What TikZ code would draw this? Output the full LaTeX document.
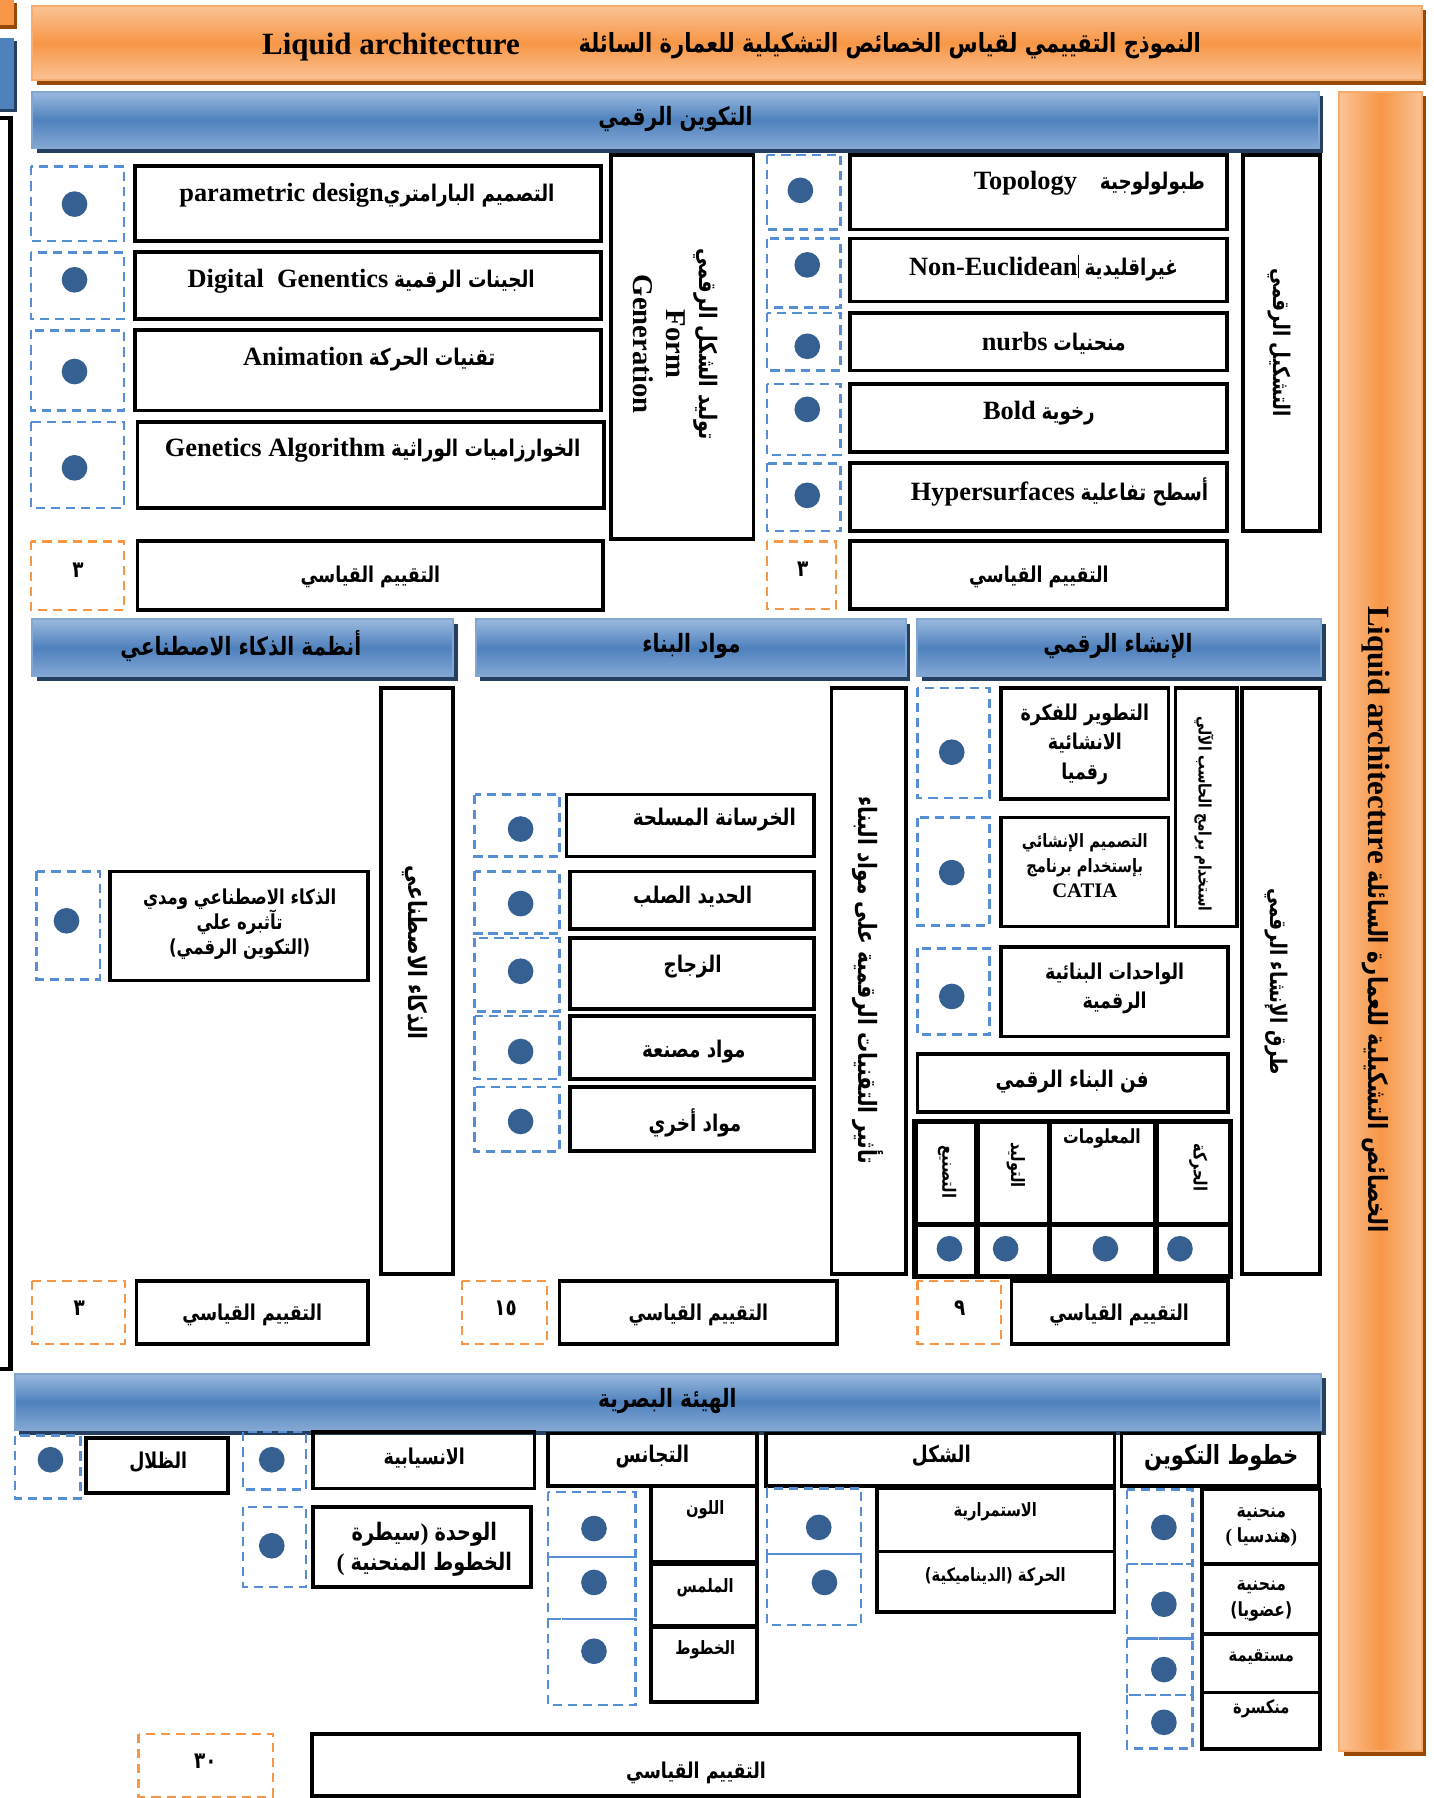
\documentclass[tikz,border=0pt]{standalone}
\usepackage{fontspec}
\setmainfont{Liberation Serif}
\newfontfamily\arabicfont[Script=Arabic,FakeStretch=0.8]{DejaVu Sans}
\TeXXeTstate=1
\newcommand{\artx}[1]{{\arabicfont\beginR #1\endR}}
\newcommand{\ardig}[1]{{\arabicfont #1}}
\definecolor{orangemid}{HTML}{F79646}
\definecolor{orangelight}{HTML}{FAC396}
\definecolor{orangedark}{HTML}{984807}
\definecolor{bluemid}{HTML}{4F81BD}
\definecolor{bluelight}{HTML}{9BB9DF}
\definecolor{bluedark}{HTML}{243F60}
\definecolor{dotblue}{HTML}{366092}
\definecolor{dashblue}{HTML}{558ED5}
\definecolor{dashorange}{HTML}{F79646}

\begin{document}
\begin{tikzpicture}[x=0.5pt,y=-0.5pt,
  box/.style={draw=black, line width=1.6pt},
  bluedash/.style={draw=dashblue, line width=1.1pt, dash pattern=on 4pt off 2.6pt},
  orangedash/.style={draw=dashorange, line width=1.1pt, dash pattern=on 4pt off 2.6pt},
  banner/.style={draw=bluemid!70!white, line width=0.8pt, top color=bluelight, bottom color=bluelight!70!bluemid, middle color=bluemid},
  bannershade/.style={fill=bluedark},
  orangehead/.style={draw=orangemid!80!white, line width=0.8pt, top color=orangelight, bottom color=orangelight, middle color=orangemid},
  orangeside/.style={draw=orangemid!80!white, line width=0.8pt, left color=orangelight, right color=orangelight, middle color=orangemid},
  orangeshade/.style={fill=orangedark},
  dotmark/.style={fill=dotblue},
  lblL/.style={inner sep=0pt, align=center, font=\bfseries\fontsize{11}{14}\selectfont},
  lblM/.style={inner sep=0pt, align=center, font=\bfseries\fontsize{10}{12.5}\selectfont},
  lblE/.style={inner sep=0pt, align=center, font=\bfseries\fontsize{9.5}{12}\selectfont},
  lblS/.style={inner sep=0pt, align=center, font=\bfseries\fontsize{9}{11}\selectfont},
  lblT/.style={inner sep=0pt, align=center, font=\bfseries\fontsize{8}{10}\selectfont}
]
\useasboundingbox (0,0) rectangle (1250,1568);

% bits of the page edge
\fill[orangeshade] (0,3) rectangle (15,25);
\fill[orangemid] (0,0) rectangle (12,22);
\fill[bannershade] (0,36) rectangle (15,98);
\fill[bluemid] (0,33) rectangle (12,95);
\draw[line width=2pt] (0,103) -- (9,103) -- (9,1194) -- (0,1194);

% title bar
\fill[orangeshade] (32,9) rectangle (1244,74);
\draw[orangehead] (28,5) rectangle (1240,70);
\node[lblL, font=\bfseries\fontsize{13.5}{16}\selectfont] (titleen) at (341,41) {Liquid architecture};
\node[lblL, font=\bfseries\fontsize{11.5}{14}\selectfont] (titlear) at (776,40) {\artx{النموذج التقييمي لقياس الخصائص التشكيلية للعمارة السائلة}};

% side bar
\fill[orangeshade] (1172,84) rectangle (1244,1531);
\draw[orangeside] (1168,80) rectangle (1240,1527);
\node[lblL, rotate=-90, font=\bfseries\fontsize{11.5}{14}\selectfont] (sidetxt) at (1200,802) {{\fontsize{13.5}{16}\selectfont Liquid architecture} \artx{الخصائص التشكيلية للعمارة السائلة}};

%% ---- digital formation ----
\fill[bannershade] (32,84) rectangle (1154,133);
\draw[banner] (28,80) rectangle (1150,129);
\node[lblL] (formhead) at (589,104) {\artx{التكوين الرقمي}};

% left column
\draw[bluedash] (27,145) rectangle (108,210);
\draw[bluedash] (27,220) rectangle (108,278);
\draw[bluedash] (27,288) rectangle (108,358);
\draw[bluedash] (27,368) rectangle (108,443);
\draw[orangedash] (27,472) rectangle (108,532);
\fill[dotmark] (65,178) circle [radius=5.6pt];
\fill[dotmark] (65,244) circle [radius=5.6pt];
\fill[dotmark] (65,324) circle [radius=5.6pt];
\fill[dotmark] (65,408) circle [radius=5.6pt];
\node[lblM] (numA) at (68,497) {\ardig{٣}};

\draw[box] (118,145) rectangle (524,210);
\draw[box] (118,220) rectangle (524,278);
\draw[box] (118,288) rectangle (524,358);
\draw[box] (120,368) rectangle (527,443);
\draw[box] (120,472) rectangle (526,532);
\node[lblM] (pdtxt) at (320,170) {{\fontsize{11.5}{13}\selectfont parametric design}\artx{التصميم البارامتري}};
\node[lblM] (dgtxt) at (315,245) {{\fontsize{11.5}{13}\selectfont Digital\ \ Genentics} \artx{الجينات الرقمية}};
\node[lblM] (antxt) at (322,313) {{\fontsize{11.5}{13}\selectfont Animation} \artx{تقنيات الحركة}};
\node[lblM] (gatxt) at (325,393) {{\fontsize{11.5}{13}\selectfont Genetics Algorithm} \artx{الخوارزاميات الوراثية}};
\node[lblE] (evalA) at (323,503) {\artx{التقييم القياسي}};

\draw[box] (533,135) rectangle (657,470);
\node[lblM, rotate=-90, font=\bfseries\fontsize{12.5}{14.5}\selectfont] (formgen) at (589,300) {{\fontsize{10.5}{14.5}\selectfont\artx{توليد الشكل الرقمي}}\\Form\\Generation};

% right column
\draw[bluedash] (669,135) rectangle (733,200);
\draw[bluedash] (669,208) rectangle (733,268);
\draw[bluedash] (669,273) rectangle (733,323);
\draw[bluedash] (669,335) rectangle (733,397);
\draw[bluedash] (669,404) rectangle (733,463);
\draw[orangedash] (669,472) rectangle (729,531);
\fill[dotmark] (698,166) circle [radius=5.6pt];
\fill[dotmark] (704,231) circle [radius=5.6pt];
\fill[dotmark] (704,302) circle [radius=5.6pt];
\fill[dotmark] (704,357) circle [radius=5.6pt];
\fill[dotmark] (704,432) circle [radius=5.6pt];
\node[lblM] (numB) at (700,496) {\ardig{٣}};

\draw[box] (741,135) rectangle (1070,200);
\draw[box] (741,208) rectangle (1070,263);
\draw[box] (741,273) rectangle (1070,323);
\draw[box] (741,335) rectangle (1070,394);
\draw[box] (741,404) rectangle (1070,463);
\draw[box] (741,472) rectangle (1070,531);
\node[lblM] (topo) at (950,160) {{\fontsize{11.5}{13}\selectfont Topology}\hspace{1em}\artx{طبولولوجية}};
\node[lblM] (noneu) at (910,234) {{\fontsize{11.5}{13}\selectfont Non-Euclidean}\rule[-1pt]{0.5pt}{10pt} \artx{غيراقليدية}};
\node[lblM] (nurbs) at (919,299) {{\fontsize{11.5}{13}\selectfont nurbs} \artx{منحنيات}};
\node[lblM] (bold) at (906,360) {{\fontsize{11.5}{13}\selectfont Bold} \artx{رخوية}};
\node[lblM] (hyper) at (924,429) {{\fontsize{11.5}{13}\selectfont Hypersurfaces} \artx{أسطح تفاعلية}};
\node[lblE] (evalB) at (906,503) {\artx{التقييم القياسي}};

\draw[box] (1084,135) rectangle (1151,463);
\node[lblM, rotate=-90] (shaping) at (1116,299) {\artx{التشكيل الرقمي}};

%% ---- middle headers ----
\fill[bannershade] (32,544) rectangle (399,594);
\draw[banner] (28,540) rectangle (395,590);
\node[lblL] (aihead) at (210,563) {\artx{أنظمة الذكاء الاصطناعي}};
\fill[bannershade] (419,544) rectangle (794,594);
\draw[banner] (415,540) rectangle (790,590);
\node[lblL] (mathead) at (603,563) {\artx{مواد البناء}};
\fill[bannershade] (804,544) rectangle (1156,594);
\draw[banner] (800,540) rectangle (1152,590);
\node[lblL] (constrhead) at (975,563) {\artx{الإنشاء الرقمي}};

% artificial intelligence
\draw[box] (332,600) rectangle (395,1111);
\node[lblL, rotate=-90] (aivert) at (362,831) {\artx{الذكاء الاصطناعي}};
\draw[bluedash] (32,760) rectangle (87,854);
\fill[dotmark] (58,803) circle [radius=5.6pt];
\draw[box] (96,760) rectangle (321,855);
\node[lblS] (aitxt) at (209,806) {\artx{الذكاء الاصطناعي ومدي}\\\artx{تآثبره علي}\\\artx{(التكوين الرقمي)}};
\draw[orangedash] (28,1117) rectangle (109,1172);
\node[lblM] (numC) at (69,1141) {\ardig{٣}};
\draw[box] (119,1117) rectangle (321,1172);
\node[lblE] (evalC) at (220,1147) {\artx{التقييم القياسي}};

% building materials
\draw[box] (725,600) rectangle (790,1111);
\node[lblL, rotate=-90] (matvert) at (757,855) {\artx{تأثير التقنيات الرقمية على مواد البناء}};
\draw[bluedash] (414,693) rectangle (488,747);
\draw[bluedash] (414,760) rectangle (488,814);
\draw[bluedash] (414,818) rectangle (488,882);
\draw[bluedash] (414,886) rectangle (488,941);
\draw[bluedash] (414,948) rectangle (488,1004);
\fill[dotmark] (454,723) circle [radius=5.6pt];
\fill[dotmark] (454,788) circle [radius=5.6pt];
\fill[dotmark] (454,847) circle [radius=5.6pt];
\fill[dotmark] (454,917) circle [radius=5.6pt];
\fill[dotmark] (454,978) circle [radius=5.6pt];
\draw[box] (494,693) rectangle (710,747);
\draw[box] (497,760) rectangle (710,810);
\draw[box] (497,818) rectangle (710,880);
\draw[box] (497,886) rectangle (710,941);
\draw[box] (497,948) rectangle (710,1004);
\node[lblM] (rconc) at (623,715) {\artx{الخرسانة المسلحة}};
\node[lblM] (steel) at (604,782) {\artx{الحديد الصلب}};
\node[lblM] (glass) at (604,843) {\artx{الزجاج}};
\node[lblM] (manuf) at (605,917) {\artx{مواد مصنعة}};
\node[lblM] (other) at (606,979) {\artx{مواد أخري}};
\draw[orangedash] (403,1117) rectangle (477,1172);
\node[lblM] (numD) at (441,1141) {\ardig{١٥}};
\draw[box] (488,1117) rectangle (730,1172);
\node[lblE] (evalD) at (609,1147) {\artx{التقييم القياسي}};

% digital construction
\draw[box] (1083,600) rectangle (1151,1111);
\node[lblM, rotate=-90] (methods) at (1113,856) {\artx{طرق الإنشاء الرقمي}};
\draw[box] (1025,600) rectangle (1079,808);
\node[lblT, rotate=-90, font=\bfseries\fontsize{7.5}{9}\selectfont] (software) at (1050,710) {\artx{استخدام برامج الحاسب الآلي}};
\draw[bluedash] (800,600) rectangle (863,696);
\draw[bluedash] (800,713) rectangle (863,807);
\draw[bluedash] (800,827) rectangle (863,902);
\fill[dotmark] (830,656) circle [radius=5.6pt];
\fill[dotmark] (830,761) circle [radius=5.6pt];
\fill[dotmark] (830,869) circle [radius=5.6pt];
\draw[box] (873,600) rectangle (1019,697);
\draw[box] (873,713) rectangle (1019,808);
\draw[box] (873,826) rectangle (1071,904);
\node[lblS, font=\bfseries\fontsize{9.5}{13}\selectfont] (idea) at (946,649) {\artx{التطوير للفكرة}\\\artx{الانشائية}\\\artx{رقميا}};
\node[lblT, font=\bfseries\fontsize{8}{11}\selectfont] (catia) at (946,755) {\artx{التصميم الإنشائي}\\\artx{بإستخدام برنامج}\\{\fontsize{9}{11}\selectfont CATIA}};
\node[lblS, font=\bfseries\fontsize{9.5}{13}\selectfont] (units) at (972,862) {\artx{الواحدات البنائية}\\\artx{الرقمية}};
\draw[box] (800,919) rectangle (1071,970);
\node[lblM] (fab) at (935,943) {\artx{فن البناء الرقمي}};

% grid under it
\draw[box, line width=2.3pt] (798,978) rectangle (1073,1113);
\draw[line width=2.3pt] (852,978) -- (852,1113);
\draw[line width=2.3pt] (915,978) -- (915,1113);
\draw[line width=2.3pt] (1008,978) -- (1008,1113);
\draw[line width=2.3pt] (798,1068) -- (1073,1068);
\node[lblT, rotate=-90] (gfab) at (826,1022) {\artx{التصنيع}};
\node[lblT, rotate=-90] (ggen) at (886,1016) {\artx{التوليد}};
\node[lblT, font=\bfseries\fontsize{8.5}{10}\selectfont] (ginfo) at (961,993) {\artx{المعلومات}};
\node[lblT, rotate=-90] (gmotion) at (1045,1018) {\artx{الحركة}};
\fill[dotmark] (828,1089) circle [radius=5.6pt];
\fill[dotmark] (877,1089) circle [radius=5.6pt];
\fill[dotmark] (964,1089) circle [radius=5.6pt];
\fill[dotmark] (1029,1089) circle [radius=5.6pt];
\draw[orangedash] (800,1117) rectangle (873,1172);
\node[lblM] (numE) at (837,1141) {\ardig{٩}};
\draw[box] (882,1117) rectangle (1071,1172);
\node[lblE] (evalE) at (976,1147) {\artx{التقييم القياسي}};

%% ---- visual form ----
\fill[bannershade] (17,1202) rectangle (1156,1251);
\draw[banner] (13,1198) rectangle (1152,1247);
\node[lblL] (visualhead) at (582,1222) {\artx{الهيئة البصرية}};

% lines of formation
\draw[box] (978,1250) rectangle (1150,1296);
\node[lblL, font=\bfseries\fontsize{11.5}{14}\selectfont] (lineshead) at (1065,1271) {\artx{خطوط التكوين}};
\draw[bluedash] (983,1299) rectangle (1040,1364);
\draw[bluedash] (983,1364) rectangle (1040,1429);
\draw[bluedash] (983,1429) rectangle (1040,1478);
\draw[bluedash] (983,1478) rectangle (1040,1525);
\fill[dotmark] (1015,1332) circle [radius=5.6pt];
\fill[dotmark] (1015,1399) circle [radius=5.6pt];
\fill[dotmark] (1015,1456) circle [radius=5.6pt];
\fill[dotmark] (1015,1502) circle [radius=5.6pt];
\draw[box] (1048,1299) rectangle (1151,1364);
\draw[box] (1048,1364) rectangle (1151,1425);
\draw[box] (1048,1425) rectangle (1151,1476);
\draw[box] (1048,1476) rectangle (1151,1525);
\node[lblT, font=\bfseries\fontsize{8.5}{11}\selectfont] (curvgeo) at (1100,1332) {\artx{منحنية}\\(\ \artx{هندسيا})};
\node[lblT, font=\bfseries\fontsize{8.5}{11}\selectfont] (curvorg) at (1100,1396) {\artx{منحنية}\\\artx{(عضويا)}};
\node[lblT] (straight) at (1100,1445) {\artx{مستقيمة}};
\node[lblT] (broken) at (1100,1490) {\artx{منكسرة}};

% shape
\draw[box] (668,1250) rectangle (972,1296);
\node[lblM] (shapehead) at (821,1270) {\artx{الشكل}};
\draw[bluedash] (669,1298) rectangle (751,1355);
\draw[bluedash] (669,1355) rectangle (751,1417);
\fill[dotmark] (714,1332) circle [radius=5.6pt];
\fill[dotmark] (719,1380) circle [radius=5.6pt];
\draw[box] (765,1298) rectangle (972,1353);
\draw[box] (765,1353) rectangle (972,1406);
\node[lblT] (contin) at (868,1318) {\artx{الاستمرارية}};
\node[lblT] (dynam) at (868,1375) {\artx{الحركة (الديناميكية)}};

% homogeneity
\draw[box] (478,1250) rectangle (660,1296);
\node[lblM] (homog) at (569,1270) {\artx{التجانس}};
\draw[bluedash] (478,1301) rectangle (554,1358);
\draw[bluedash] (478,1358) rectangle (554,1412);
\draw[bluedash] (478,1412) rectangle (554,1487);
\fill[dotmark] (518,1333) circle [radius=5.6pt];
\fill[dotmark] (518,1380) circle [radius=5.6pt];
\fill[dotmark] (518,1440) circle [radius=5.6pt];
\draw[box] (568,1296) rectangle (660,1362);
\draw[box] (568,1364) rectangle (660,1418);
\draw[box] (568,1419) rectangle (660,1484);
\node[lblT] (colour) at (615,1317) {\artx{اللون}};
\node[lblT] (texture) at (615,1385) {\artx{الملمس}};
\node[lblT] (strokes) at (615,1439) {\artx{الخطوط}};

% flow, unity, shadows
\draw[bluedash] (212,1249) rectangle (267,1299);
\fill[dotmark] (237,1273) circle [radius=5.6pt];
\draw[box] (273,1249) rectangle (466,1298);
\node[lblE] (flow) at (370,1272) {\artx{الانسيابية}};
\draw[bluedash] (212,1314) rectangle (267,1384);
\fill[dotmark] (237,1348) circle [radius=5.6pt];
\draw[box] (273,1314) rectangle (463,1384);
\node[lblS, font=\bfseries\fontsize{10.5}{13}\selectfont] (unity) at (370,1351) {\artx{سيطرة})\ \artx{الوحدة}\\(\ \artx{الخطوط المنحنية}};
\draw[bluedash] (13,1252) rectangle (70,1307);
\fill[dotmark] (44,1273) circle [radius=5.6pt];
\draw[box] (75,1254) rectangle (199,1302);
\node[lblE] (shadows) at (138,1275) {\artx{الظلال}};

% total
\draw[orangedash] (121,1512) rectangle (238,1567);
\node[lblM] (numF) at (179,1536) {\ardig{٣٠}};
\draw[box] (272,1512) rectangle (941,1566);
\node[lblE] (evalF) at (607,1546) {\artx{التقييم القياسي}};

\end{tikzpicture}
\end{document}
